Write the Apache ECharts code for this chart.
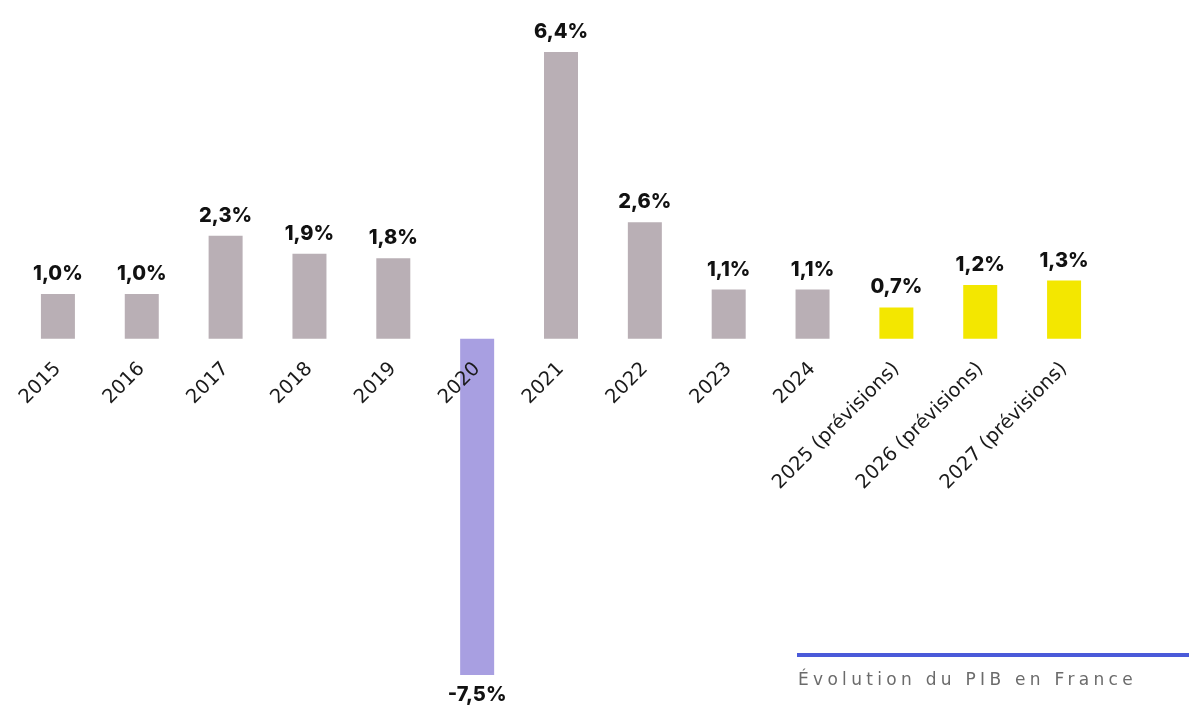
<!DOCTYPE html>
<html>
<head>
<meta charset="utf-8">
<script src="https://cdn.jsdelivr.net/npm/echarts@6/dist/echarts.min.js"></script>
<style>
  html, body { margin: 0; padding: 0; background: #ffffff; }
  #wrap { position: relative; width: 1189px; height: 711px; }
  #chart { width: 1189px; height: 711px; }
  #caption {
    position: absolute; left: 798px; top: 671px;
    font-family: 'DejaVu Sans', sans-serif; font-size: 17px; line-height: 17px;
    color: #6b6b6b; letter-spacing: 4.3px; white-space: nowrap;
  }
</style>
</head>
<body>
<div id="wrap">
  <div id="chart"></div>
  <div id="caption"></div>
</div>
<script>
// Croissance annuelle du PIB français (%)
const years = ['2015', '2016', '2017', '2018', '2019', '2020', '2021', '2022', '2023', '2024',
  '2025 (prévisions)', '2026 (prévisions)', '2027 (prévisions)'];
const gdpGrowth = [1.0, 1.0, 2.3, 1.9, 1.8, -7.5, 6.4, 2.6, 1.1, 1.1, 0.7, 1.2, 1.3];
const chartTitle = 'Évolution du PIB en France';

const GREY = '#b9afb5';
const PURPLE = '#a89fe1';
const YELLOW = '#f3e700';

const Y_MIN = -7.5;
const Y_MAX = 6.4;
const GRID = { left: 16, right: 83, top: 52, bottom: 36 };
const gridHeight = 711 - GRID.top - GRID.bottom;
// shift the category axis up from the grid bottom to the zero line
const zeroOffset = -gridHeight * (0 - Y_MIN) / (Y_MAX - Y_MIN);

function barColor(i) {
  if (years[i].indexOf('prévisions') >= 0) return YELLOW;
  if (gdpGrowth[i] < 0) return PURPLE;
  return GREY;
}

const fmt = v => v.toFixed(1).replace('.', ',') + '%';

const barData = gdpGrowth.map((v, i) => ({
  value: v,
  itemStyle: { color: barColor(i) },
  label: { position: v < 0 ? 'bottom' : 'top' }
}));

document.getElementById('caption').textContent = chartTitle;

const chart = echarts.init(document.getElementById('chart'), null, { renderer: 'canvas' });
chart.setOption({
  animation: false,
  backgroundColor: '#ffffff',
  grid: Object.assign({ containLabel: false, outerBoundsMode: 'none' }, GRID),
  xAxis: {
    type: 'category',
    data: years,
    position: 'bottom',
    offset: zeroOffset,
    z: 10,
    axisLine: { show: false, onZero: false },
    axisTick: { show: false },
    axisLabel: {
      rotate: 45,
      margin: 27,
      interval: 0,
      fontFamily: 'DejaVu Sans',
      fontSize: 19.5,
      color: '#1a1a1a'
    }
  },
  yAxis: {
    type: 'value',
    min: Y_MIN,
    max: Y_MAX,
    show: false
  },
  series: [{
    type: 'bar',
    z: 2,
    data: barData,
    barWidth: 34,
    label: {
      show: true,
      distance: 10,
      fontFamily: 'Inter',
      fontWeight: 800,
      fontSize: 20,
      color: '#111111',
      formatter: p => fmt(p.value)
    }
  }],
  graphic: [
    { type: 'rect', shape: { x: 797, y: 653, width: 392, height: 4 }, style: { fill: '#4a5ad9' } }
  ]
});
</script>
</body>
</html>
